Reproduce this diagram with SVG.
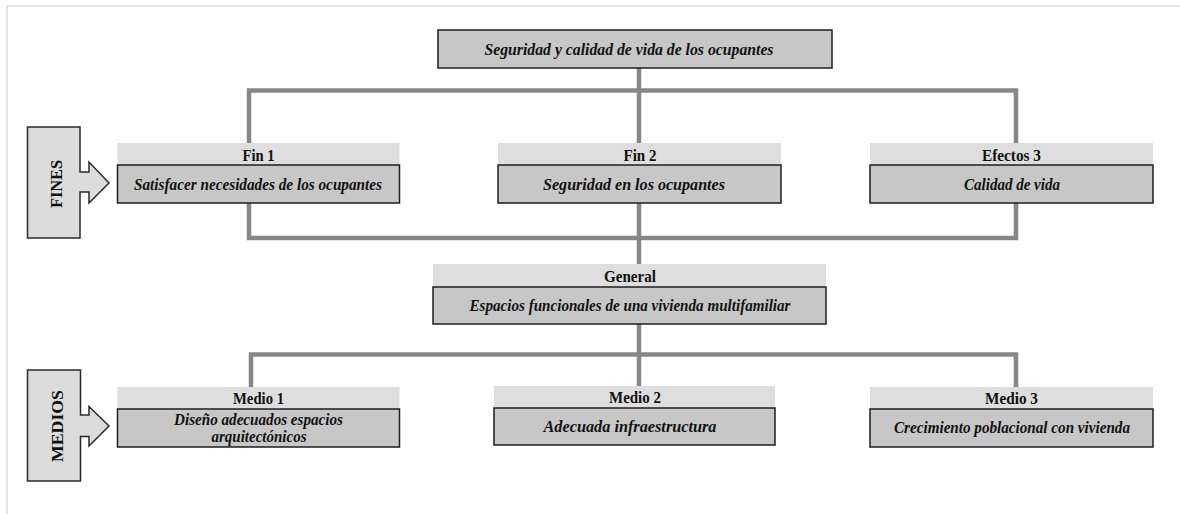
<svg xmlns="http://www.w3.org/2000/svg" width="1180" height="514" viewBox="0 0 1180 514">
<style>
.frame{stroke:#e2e2e2;stroke-width:2;fill:none}
.conn{fill:none;stroke:#878787;stroke-width:4.5;stroke-linejoin:miter}
.hdr{fill:#dedede;stroke:none}
.body{fill:#c7c7c7;stroke:#1e1e1e;stroke-width:1.5}
.side{fill:#dcdcdc;stroke:#2a2a2a;stroke-width:1.5}
.h{font-family:"Liberation Serif","Times New Roman",serif;font-weight:bold;font-size:17px;fill:#111;text-anchor:middle}
.b{font-family:"Liberation Serif","Times New Roman",serif;font-weight:bold;font-style:italic;font-size:17px;fill:#111;text-anchor:middle}
</style>
<rect x="0" y="0" width="1180" height="514" fill="#ffffff"/>
<path class="frame" d="M7,514 V6 H1180"/>
<g id="connectors">
<path class="conn" d="M639,68 V143"/>
<path class="conn" d="M249,143 V90.5 H1016 V143"/>
<path class="conn" d="M249,203 V238 H1016 V203"/>
<path class="conn" d="M639,203 V264"/>
<path class="conn" d="M639,324 V386"/>
<path class="conn" d="M251,387 V354.5 H1016 V387"/>
</g>
<g id="fines">
<path class="side" d="M27.5,127 H80 V172 H89 V162 L109,183 L89,203 V192 H80 V238 H27.5 Z"/>
<text class="h" transform="translate(62,184) rotate(-90)" textLength="48" lengthAdjust="spacingAndGlyphs">FINES</text>
</g>
<g id="medios">
<path class="side" d="M27.5,370 H80.5 V415 H89 V406.5 L109,426 L89,446 V436.5 H80.5 V481 H27.5 Z"/>
<text class="h" transform="translate(63,426) rotate(-90)" textLength="72" lengthAdjust="spacingAndGlyphs">MEDIOS</text>
</g>
<g id="top">
<rect class="body" x="438" y="30" width="394" height="38"/>
<text class="b" x="629" y="55" textLength="289" lengthAdjust="spacingAndGlyphs">Seguridad y calidad de vida de los ocupantes</text>
</g>
<g id="fin1">
<rect class="hdr" x="117.5" y="143" width="282" height="22"/>
<rect class="body" x="117.5" y="165" width="282" height="38"/>
<text class="h" x="258.5" y="160.5" textLength="32" lengthAdjust="spacingAndGlyphs">Fin 1</text>
<text class="b" x="258" y="190" textLength="248" lengthAdjust="spacingAndGlyphs">Satisfacer necesidades de los ocupantes</text>
</g>
<g id="fin2">
<rect class="hdr" x="498" y="143" width="283" height="22"/>
<rect class="body" x="498" y="165" width="283" height="38"/>
<text class="h" x="640" y="160.5" textLength="33" lengthAdjust="spacingAndGlyphs">Fin 2</text>
<text class="b" x="634" y="190" textLength="182" lengthAdjust="spacingAndGlyphs">Seguridad en los ocupantes</text>
</g>
<g id="efectos3">
<rect class="hdr" x="870" y="143" width="283" height="22"/>
<rect class="body" x="870" y="165" width="283" height="38"/>
<text class="h" x="1011.5" y="160.5" textLength="59" lengthAdjust="spacingAndGlyphs">Efectos 3</text>
<text class="b" x="1012" y="190" textLength="96" lengthAdjust="spacingAndGlyphs">Calidad de vida</text>
</g>
<g id="general">
<rect class="hdr" x="433" y="264" width="393" height="23"/>
<rect class="body" x="433" y="287" width="393" height="37"/>
<text class="h" x="630" y="281.5" textLength="52" lengthAdjust="spacingAndGlyphs">General</text>
<text class="b" x="630" y="311" textLength="321" lengthAdjust="spacingAndGlyphs">Espacios funcionales de una vivienda multifamiliar</text>
</g>
<g id="medio1">
<rect class="hdr" x="117.5" y="387" width="282" height="22"/>
<rect class="body" x="117.5" y="409" width="282" height="38"/>
<text class="h" x="258.5" y="404" textLength="51" lengthAdjust="spacingAndGlyphs">Medio 1</text>
<text class="b" x="258.5" y="425" textLength="169" lengthAdjust="spacingAndGlyphs">Diseño adecuados espacios</text>
<text class="b" x="259" y="442" textLength="95" lengthAdjust="spacingAndGlyphs">arquitectónicos</text>
</g>
<g id="medio2">
<rect class="hdr" x="494" y="386" width="281" height="22"/>
<rect class="body" x="494" y="408" width="281" height="37"/>
<text class="h" x="635" y="403" textLength="52" lengthAdjust="spacingAndGlyphs">Medio 2</text>
<text class="b" x="630" y="432" textLength="173" lengthAdjust="spacingAndGlyphs">Adecuada infraestructura</text>
</g>
<g id="medio3">
<rect class="hdr" x="870" y="387" width="283" height="22"/>
<rect class="body" x="870" y="409" width="283" height="38"/>
<text class="h" x="1011.5" y="404" textLength="53" lengthAdjust="spacingAndGlyphs">Medio 3</text>
<text class="b" x="1012" y="433" textLength="236" lengthAdjust="spacingAndGlyphs">Crecimiento poblacional con vivienda</text>
</g>
</svg>
